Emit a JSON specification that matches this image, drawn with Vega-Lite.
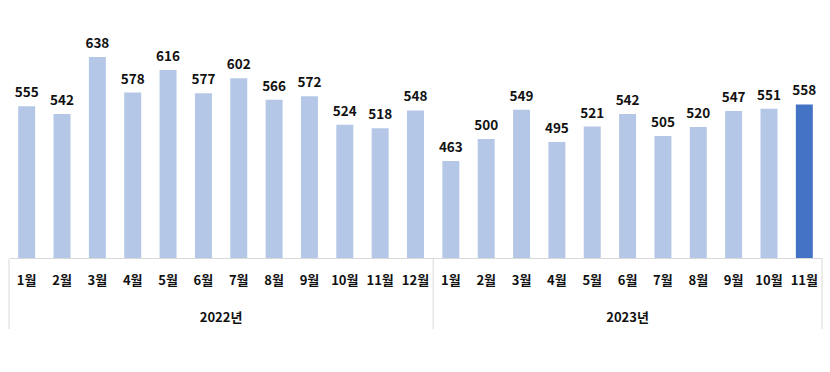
{
  "$schema": "https://vega.github.io/schema/vega-lite/v6.json",
  "padding": {"left": 8, "top": 20, "right": 9, "bottom": 0},
  "background": "white",
  "spacing": 0,
  "config": {
    "view": {"stroke": null},
    "font": "Noto Sans CJK KR",
    "text": {"font": "Noto Sans CJK KR"}
  },
  "data": {
    "values": [
      {"ym": "2022-01", "idx": 0, "year": "2022년", "month": 1, "label": "1월", "value": 555},
      {"ym": "2022-02", "idx": 1, "year": "2022년", "month": 2, "label": "2월", "value": 542},
      {"ym": "2022-03", "idx": 2, "year": "2022년", "month": 3, "label": "3월", "value": 638},
      {"ym": "2022-04", "idx": 3, "year": "2022년", "month": 4, "label": "4월", "value": 578},
      {"ym": "2022-05", "idx": 4, "year": "2022년", "month": 5, "label": "5월", "value": 616},
      {"ym": "2022-06", "idx": 5, "year": "2022년", "month": 6, "label": "6월", "value": 577},
      {"ym": "2022-07", "idx": 6, "year": "2022년", "month": 7, "label": "7월", "value": 602},
      {"ym": "2022-08", "idx": 7, "year": "2022년", "month": 8, "label": "8월", "value": 566},
      {"ym": "2022-09", "idx": 8, "year": "2022년", "month": 9, "label": "9월", "value": 572},
      {"ym": "2022-10", "idx": 9, "year": "2022년", "month": 10, "label": "10월", "value": 524},
      {"ym": "2022-11", "idx": 10, "year": "2022년", "month": 11, "label": "11월", "value": 518},
      {"ym": "2022-12", "idx": 11, "year": "2022년", "month": 12, "label": "12월", "value": 548},
      {"ym": "2023-01", "idx": 12, "year": "2023년", "month": 1, "label": "1월", "value": 463},
      {"ym": "2023-02", "idx": 13, "year": "2023년", "month": 2, "label": "2월", "value": 500},
      {"ym": "2023-03", "idx": 14, "year": "2023년", "month": 3, "label": "3월", "value": 549},
      {"ym": "2023-04", "idx": 15, "year": "2023년", "month": 4, "label": "4월", "value": 495},
      {"ym": "2023-05", "idx": 16, "year": "2023년", "month": 5, "label": "5월", "value": 521},
      {"ym": "2023-06", "idx": 17, "year": "2023년", "month": 6, "label": "6월", "value": 542},
      {"ym": "2023-07", "idx": 18, "year": "2023년", "month": 7, "label": "7월", "value": 505},
      {"ym": "2023-08", "idx": 19, "year": "2023년", "month": 8, "label": "8월", "value": 520},
      {"ym": "2023-09", "idx": 20, "year": "2023년", "month": 9, "label": "9월", "value": 547},
      {"ym": "2023-10", "idx": 21, "year": "2023년", "month": 10, "label": "10월", "value": 551},
      {"ym": "2023-11", "idx": 22, "year": "2023년", "month": 11, "label": "11월", "value": 558}
    ]
  },
  "vconcat": [
    {
      "width": 813,
      "height": 238,
      "encoding": {
        "x": {
          "field": "ym",
          "type": "nominal",
          "scale": {"paddingInner": 0.52, "paddingOuter": 0.26},
          "axis": {"labels": false, "ticks": false, "title": null, "domainColor": "#d9d9d9", "domainWidth": 1}
        },
        "y": {
          "field": "value",
          "type": "quantitative",
          "scale": {"domain": [300, 700], "zero": false, "nice": false},
          "axis": null
        }
      },
      "layer": [
        {
          "mark": {"type": "bar"},
          "encoding": {
            "y2": {"datum": 300},
            "color": {
              "condition": {"test": "datum.ym == '2023-11'", "value": "#4472C4"},
              "value": "#B4C7E7"
            }
          }
        },
        {
          "mark": {"type": "text", "baseline": "alphabetic", "dy": -9, "fontSize": 13.5, "fontWeight": "bold", "color": "#111111"},
          "encoding": {"text": {"field": "value", "type": "quantitative"}}
        }
      ]
    },
    {
      "width": 813,
      "height": 70,
      "resolve": {"scale": {"x": "independent"}},
      "layer": [
        {
          "layer": [
            {
              "transform": [{"filter": "datum.month == 1"}],
              "mark": {"type": "rule", "color": "#d9d9d9", "strokeWidth": 1},
              "encoding": {
                "x": {"field": "ym", "type": "nominal", "bandPosition": 0, "scale": {"paddingInner": 0, "paddingOuter": 0}, "axis": null}
              }
            },
            {
              "transform": [{"filter": "datum.ym == '2023-11'"}],
              "mark": {"type": "rule", "color": "#d9d9d9", "strokeWidth": 1},
              "encoding": {
                "x": {"field": "ym", "type": "nominal", "bandPosition": 1, "axis": null}
              }
            },
            {
              "mark": {"type": "text", "baseline": "middle", "fontSize": 13, "fontWeight": "bold", "color": "#111111"},
              "encoding": {
                "x": {"field": "ym", "type": "nominal", "axis": null},
                "y": {"datum": "m", "type": "ordinal", "scale": {"type": "point", "domain": ["m", "y"], "range": [22, 59], "padding": 0}, "axis": null},
                "text": {"field": "label", "type": "nominal"}
              }
            }
          ]
        },
        {
          "mark": {"type": "text", "baseline": "middle", "fontSize": 13, "fontWeight": "bold", "color": "#111111"},
          "encoding": {
            "x": {"aggregate": "mean", "field": "idx", "type": "quantitative", "scale": {"domain": [-0.5, 22.5], "zero": false, "nice": false}, "axis": null},
            "y": {"datum": "y", "type": "ordinal", "scale": {"type": "point", "domain": ["m", "y"], "range": [22, 59], "padding": 0}, "axis": null},
            "text": {"field": "year", "type": "nominal"}
          }
        }
      ]
    }
  ]
}
